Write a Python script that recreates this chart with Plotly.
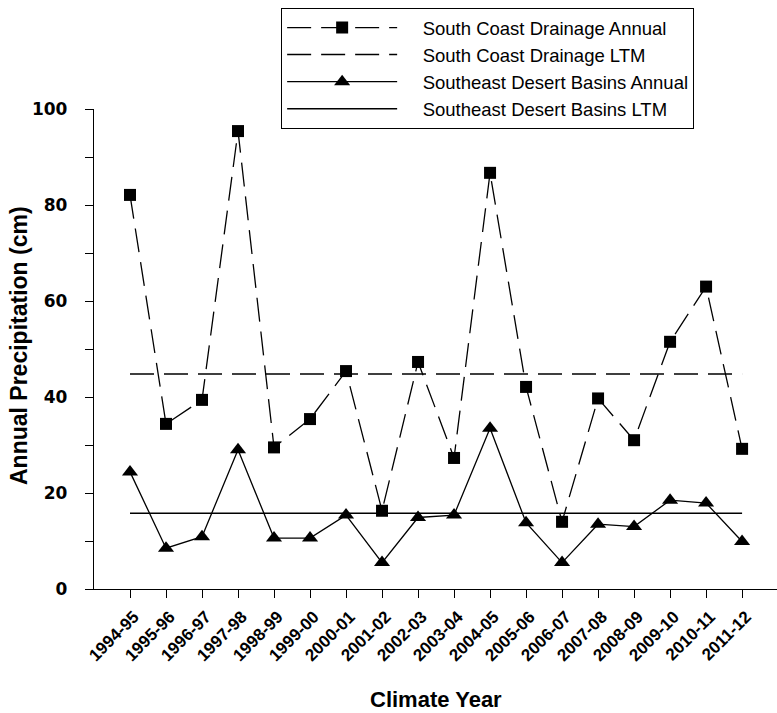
import plotly.graph_objects as go

years = ["1994-95", "1995-96", "1996-97", "1997-98", "1998-99", "1999-00",
         "2000-01", "2001-02", "2002-03", "2003-04", "2004-05", "2005-06",
         "2006-07", "2007-08", "2008-09", "2009-10", "2010-11", "2011-12"]

south_coast_annual = [82.1, 34.4, 39.4, 95.4, 29.5, 35.4, 45.4, 16.3, 47.3, 27.3,
                      86.7, 42.1, 14.0, 39.7, 31.0, 51.5, 63.0, 29.2]
south_coast_ltm = 44.8

desert_annual = [24.4, 8.5, 10.9, 29.0, 10.6, 10.6, 15.4, 5.5, 14.9, 15.4,
                 33.5, 13.8, 5.5, 13.5, 13.0, 18.5, 17.9, 9.9]
desert_ltm = 15.8

series_names = ["South Coast Drainage Annual", "South Coast Drainage LTM",
                "Southeast Desert Basins Annual", "Southeast Desert Basins LTM"]
PAD = "\u00a0" * 4

DASH = "24px,10px"
fig = go.Figure()
fig.add_trace(go.Scatter(
    x=years, y=south_coast_annual, name=PAD + series_names[0],
    mode="lines+markers",
    line=dict(color="black", width=1.3, dash=DASH),
    marker=dict(symbol="square", size=12, color="black")))
fig.add_trace(go.Scatter(
    x=[years[0], years[-1]], y=[south_coast_ltm, south_coast_ltm],
    name=PAD + series_names[1], mode="lines",
    line=dict(color="black", width=1.5, dash=DASH)))
fig.add_trace(go.Scatter(
    x=years, y=desert_annual, name=PAD + series_names[2],
    mode="lines+markers",
    line=dict(color="black", width=1.3),
    marker=dict(symbol="triangle-up", size=14, color="black")))
fig.add_trace(go.Scatter(
    x=[years[0], years[-1]], y=[desert_ltm, desert_ltm],
    name=PAD + series_names[3], mode="lines",
    line=dict(color="black", width=1.5)))

xtickfont = dict(family="Liberation Sans", size=17, color="black", weight="bold")
ytickfont = dict(family="DejaVu Sans", size=17, color="black", weight="bold")

fig.update_layout(
    width=777, height=713,
    margin=dict(l=94, r=0, t=109, b=124),
    paper_bgcolor="white", plot_bgcolor="white",
    font=dict(family="Liberation Sans", color="black"),
    showlegend=True,
    legend=dict(
        x=0.274, y=1.2104, xanchor="left", yanchor="top",
        bgcolor="white", bordercolor="black", borderwidth=1,
        font=dict(family="Liberation Sans", size=18.5, color="black"),
        itemwidth=110, tracegroupgap=0,
    ),
    xaxis=dict(
        type="category", range=[-1, 17.97],
        showline=True, linecolor="black", linewidth=1.3,
        ticks="outside", ticklen=8, tickcolor="black", tickwidth=1.3,
        tickangle=-45, tickfont=xtickfont, ticklabelshift=4, ticklabelstandoff=2,
        showgrid=False, zeroline=False,
    ),
    yaxis=dict(
        range=[0, 100], dtick=20, tick0=0,
        showline=True, linecolor="black", linewidth=1.3,
        ticks="outside", ticklen=8, tickcolor="black", tickwidth=1.3,
        minor=dict(dtick=10, ticks="outside", ticklen=8, tickcolor="black", tickwidth=1.3),
        tickfont=ytickfont, ticklabelstandoff=14, showgrid=False, zeroline=False,
    ),
    annotations=[
        dict(text="<b>Annual Precipitation (cm)</b>", textangle=-90,
             xref="paper", yref="paper", x=(19 - 94) / 683, y=(589 - 346) / 480,
             xanchor="center", yanchor="middle", showarrow=False,
             font=dict(family="Liberation Sans", size=23, color="black")),
        dict(text="<b>Climate Year</b>",
             xref="paper", yref="paper", x=0.5, y=(589 - 699) / 480,
             xanchor="center", yanchor="middle", showarrow=False,
             font=dict(family="Liberation Sans", size=22, color="black")),
    ],
)

fig.write_html("out.html")
